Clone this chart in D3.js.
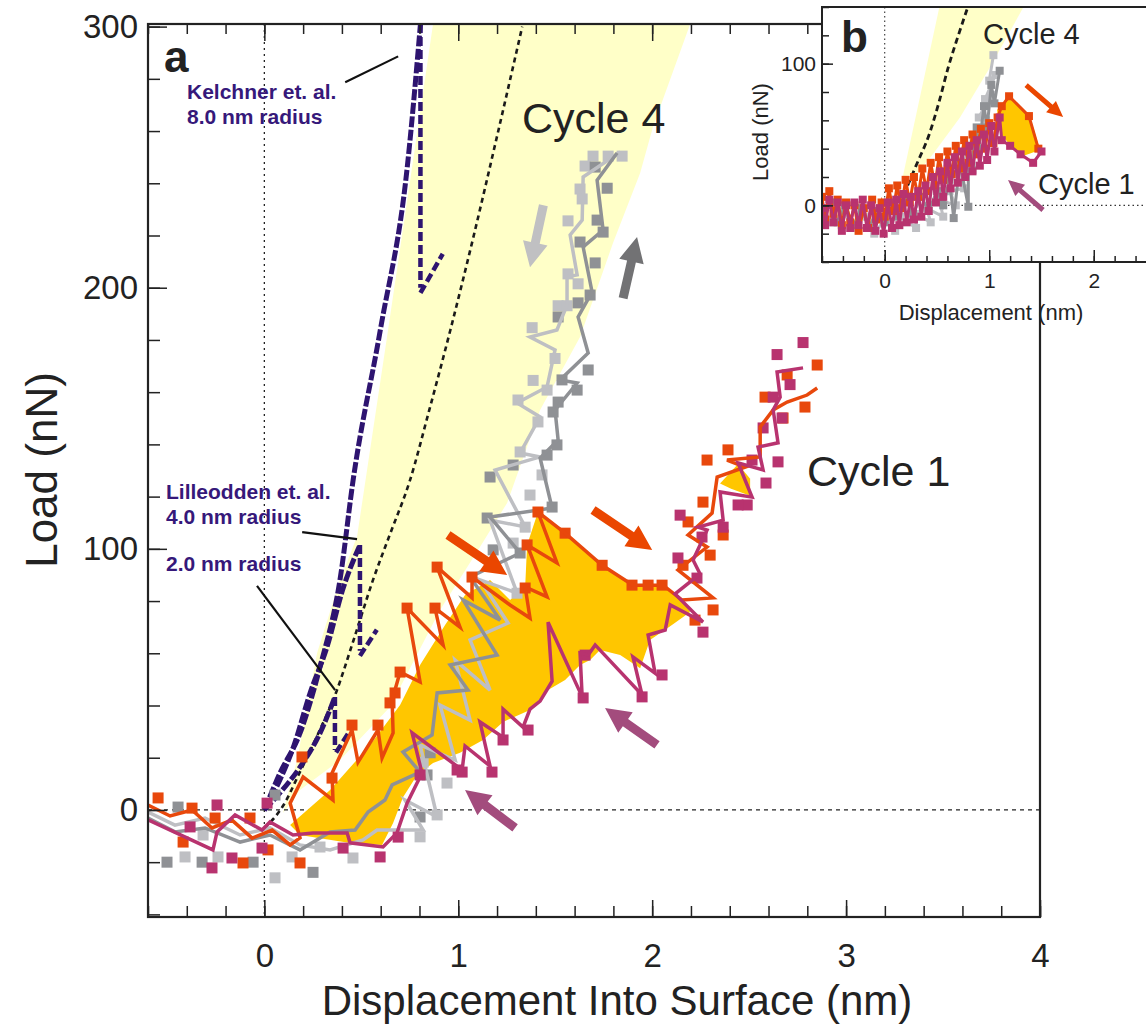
<!DOCTYPE html>
<html>
<head>
<meta charset="utf-8">
<script src="https://cdnjs.cloudflare.com/ajax/libs/d3/7.8.5/d3.min.js"></script>
<style>
body{margin:0;background:#fff}
svg{display:block;font-family:"Liberation Sans",Arial,Helvetica,sans-serif}
</style>
</head>
<body>
<script>
// ---- main panel (a) data: [displacement nm, load nN] ----
const xMajor=[0,1,2,3,4];
const yMajor=[0,100,200,300];
const yellowBand=[[0.096,-1.2],[0.133,9.5],[0.169,19.1],[0.272,60.1],[0.390,88.1],[0.478,104.6],[0.638,183.8],[0.752,241.2],[0.870,301],
  [2.196,301],[2.004,261.6],[1.938,243.9],[1.798,217.1],[1.628,181.1],[1.422,153.2],[1.252,117.6],[1.112,100.7],[0.906,76.6],[0.648,39.4],[0.390,19.1],[0.184,7.6]];
const loopFill=[[0.133,-5.8],[0.339,7.6],[0.545,24.9],[0.700,40.2],[0.803,55.5],[0.932,70.8],[1.035,82.3],[1.164,88.1],[1.267,80.4],[1.345,85.4],[1.355,101.5],[1.411,114.1],[1.551,106.0],[1.742,93.7],[1.901,86.1],[2.056,86.1],[2.154,80.4],[2.196,75.8],
  [2.102,70.8],[1.989,65.1],[1.938,54.3],[1.835,59.3],[1.731,61.3],[1.680,57.4],[1.628,55.5],[1.551,49.8],[1.463,45.9],[1.370,38.3],[1.231,33.7],[1.128,26.8],[1.009,21.9],[0.870,18.0],[0.788,13.4],[0.715,4.9],[0.664,-5.0],[0.607,-13.4],[0.442,-12.7],[0.287,-10.8],[0.184,-9.6]];
const loopFill2=[[2.350,125.0],[2.443,132.5],[2.505,126.8],[2.505,120.3],[2.407,123.0]];
const fitCurve=[[0.0,-7],[0.1,2],[0.18,14],[0.27,28],[0.37,45],[0.46,65],[0.56,88],[0.65,106],[0.75,126],[0.85,153],[0.96,184],[1.08,220],[1.2,258],[1.33,300]];
const kelchner8=[[0,0],[0.08,14],[0.184,29.4],[0.287,54.8],[0.39,88.1],[0.458,126.4],[0.598,183.8],[0.737,246.2],[0.805,301]];
const lille4=[[0,0],[0.08,11.5],[0.15,24.1],[0.236,44.8],[0.323,62.4],[0.405,84.6],[0.493,101.5]];
const lille2=[[0,0],[0.08,6.5],[0.184,16.4],[0.287,29.4],[0.364,43.3]];
const drops=[[[0.805,301],[0.805,200]],[[0.493,101.5],[0.493,61]],[[0.364,43.3],[0.364,23]]];
const hooks=[[[0.805,198],[0.92,213]],[[0.493,59],[0.58,69]],[[0.37,22],[0.455,32]]];

const c1LoadLine=[[-0.600,1.9],[-0.486,-2.3],[-0.373,0],[-0.270,-6.9],[-0.167,-3.9],[-0.063,-10.8],[0.040,-7.7],[0.133,-13.4],[0.184,-10.7],[0.133,2.6],[0.200,12.6],[0.354,3.8],[0.349,14.1],[0.452,30.6],[0.483,18.3],[0.586,30.6],[0.607,19.9],[0.664,29.5],[0.659,42.1],[0.700,52.8],[0.803,49.0],[0.736,77.3],[0.922,63.1],[0.880,77.3],[1.009,70.0],[0.891,93.0],[1.071,81.2],[1.071,89.2],[1.267,78.5],[1.370,73.5],[1.345,85.4],[1.458,81.6],[1.355,101.5],[1.509,94.6],[1.411,114.1],[1.551,106.0],[1.742,93.7],[1.901,86.1],[2.056,86.1],[2.154,80.4],[2.314,81.2],[2.133,91.9],[2.283,100.7],[2.185,105.3],[2.309,113.7],[2.335,127.5],[2.479,131.3],[2.386,134.0],[2.557,135.2],[2.557,146.7],[2.624,153.2],[2.696,156.2],[2.799,158.9],[2.851,161.6]];
const c1LoadPts=[[-0.548,4.6],[-0.373,0.7],[-0.254,-3.1],[-0.074,-3.1],[-0.419,-12.3],[0.019,-15.3],[-0.110,-20.3],[0.184,-20.3],[0.194,20.3],[0.349,12.2],[0.452,32.5],[0.586,32.5],[0.648,41.0],[0.674,44.8],[0.700,52.8],[0.736,77.3],[0.880,77.3],[0.891,93.0],[1.071,89.2],[1.345,85.0],[1.355,101.5],[1.411,114.1],[1.551,106.0],[1.742,93.7],[1.896,86.1],[1.979,86.1],[2.051,86.1],[2.283,134.0],[2.391,137.9],[2.262,117.9],[2.185,110.3],[2.366,105.3],[2.299,97.6],[2.159,93.7],[2.314,76.6],[2.221,72.7],[2.582,158.1],[2.675,150.1],[2.788,154.3],[2.851,170.4],[2.696,166.6]];
const c1UnloadLine=[[2.778,169.3],[2.644,167.7],[2.660,158.1],[2.624,153.2],[2.649,140.6],[2.546,139.0],[2.572,130.2],[2.443,132.9],[2.515,119.8],[2.350,121.8],[2.366,111.0],[2.237,108.3],[2.283,107.2],[2.211,95.7],[2.247,90.4],[2.118,82.7],[2.262,72.0],[2.093,78.5],[2.067,68.9],[1.979,67.0],[2.015,52.4],[1.901,58.6],[1.948,44.0],[1.706,63.2],[1.670,59.3],[1.628,60.1],[1.639,43.3],[1.463,71.9],[1.484,49.3],[1.422,41.7],[1.370,38.6],[1.334,31.7],[1.231,38.6],[1.231,27.9],[1.112,33.7],[1.164,16.8],[1.035,24.5],[1.020,15.3],[0.762,29.5],[0.813,14.1],[0.736,2.6],[0.684,-8.8],[0.612,-14.2],[0.442,-12.6],[0.427,-8.8],[0.251,-8.8],[0.148,-9.6],[0.029,-4.6],[-0.012,-7.7],[-0.151,-1.9],[-0.244,-8.4],[-0.265,-15.3],[-0.399,-10.7],[-0.600,-3.8]];
const c1UnloadPts=[[2.778,179.0],[2.644,174.4],[2.711,162.9],[2.624,158.1],[2.670,150.1],[2.572,146.3],[2.649,133.3],[2.515,134.0],[2.587,125.2],[2.490,116.8],[2.443,116.8],[2.366,108.3],[2.144,112.9],[2.257,104.5],[2.133,96.5],[2.231,88.8],[2.262,68.1],[2.051,51.7],[1.948,43.3],[1.644,42.9],[1.654,59.3],[1.360,30.6],[1.231,26.8],[1.174,14.5],[1.020,14.5],[0.690,-10.4],[0.597,-18.0],[-0.244,1.9],[-0.383,-6.5],[-0.167,-18.4],[-0.270,-22.2],[0.014,2.6],[-0.012,-14.6],[0.406,-14.6],[0.803,13.4],[0.994,15.3]];
const c4LoadLine=[[-0.600,-3.1],[-0.461,-8.4],[-0.306,-6.9],[-0.125,-12.3],[0.029,-9.6],[0.184,-15.3],[0.339,-8.4],[0.468,-7.7],[0.535,-0.8],[0.622,3.8],[0.659,9.6],[0.803,14.5],[0.715,22.2],[0.865,28.7],[0.891,44.8],[1.050,45.9],[0.958,55.5],[1.200,59.3],[1.025,80.4],[1.216,72.7],[1.061,89.2],[1.319,98.4],[1.164,112.2],[1.484,115.6],[1.422,134.8],[1.515,141.7],[1.499,153.2],[1.613,163.5],[1.525,164.7],[1.670,175.0],[1.618,188.8],[1.690,198.4],[1.644,215.6],[1.747,222.1],[1.716,241.2],[1.819,251.6]];
const c4LoadPts=[[1.706,246.2],[1.768,238.1],[1.716,225.9],[1.747,221.3],[1.628,217.5],[1.706,209.5],[1.680,197.2],[1.618,194.2],[1.515,188.8],[1.670,168.5],[1.535,164.7],[1.613,160.8],[1.515,156.2],[1.489,152.4],[1.509,139.8],[1.458,135.9],[1.283,132.1],[1.164,127.5],[1.484,116.0],[1.149,111.8],[1.180,99.6],[1.319,98.4],[0.855,21.9],[0.839,13.4],[0.803,-2.7],[-0.445,1.1],[-0.502,-20.0],[-0.321,-20.0],[-0.058,-20.0],[0.251,-23.9],[0.055,5.7]];
const c4UnloadLine=[[1.835,252.0],[1.644,242.4],[1.639,225.9],[1.577,220.2],[1.613,204.9],[1.561,204.2],[1.561,193.4],[1.509,183.8],[1.370,181.1],[1.499,176.2],[1.458,162.0],[1.303,155.9],[1.422,150.5],[1.319,136.7],[1.422,135.2],[1.190,130.2],[1.345,108.4],[1.164,111.0],[1.303,83.1],[1.112,88.1],[1.257,71.6],[1.061,65.1],[1.164,45.9],[0.984,57.4],[1.061,34.4],[0.906,40.2],[0.984,19.1],[0.803,24.9],[0.891,-2.7],[0.725,3.8],[0.819,-7.7],[0.581,-7.7],[0.509,-11.5],[0.339,-15.3],[0.184,-13.4],[0.029,-6.9],[-0.125,-9.6],[-0.306,-3.1],[-0.461,-5.8],[-0.600,-0.8]];
const c4UnloadPts=[[1.695,250.4],[1.773,250.4],[1.845,250.4],[1.654,246.6],[1.628,237.8],[1.639,234.0],[1.566,225.6],[1.566,205.3],[1.618,201.5],[1.515,193.1],[1.561,193.1],[1.381,184.7],[1.499,172.9],[1.386,164.5],[1.458,160.8],[1.308,157.0],[1.411,148.6],[1.319,137.1],[1.432,128.3],[1.370,120.6],[1.345,108.3],[1.283,102.2],[1.303,83.0],[-0.409,-18.0],[-0.239,-18.0],[-0.316,-9.6],[0.055,-26.0],[0.143,-18.0],[0.287,-14.2],[0.457,-18.4],[0.803,-10.3],[0.891,-1.9],[0.942,10.3],[0.819,18.3]];
// arrows: [x tail, y tail, x tip, y tip]
const arrowsA=[
  {c:"#C0C0C2",p:[1.439,231.6,1.370,207.8]},
  {c:"#727274",p:[1.850,196.0,1.922,219.4]},
  {c:"#EA4600",p:[0.947,105.3,1.252,90.0]},
  {c:"#EA4600",p:[1.695,114.9,2.000,99.6]},
  {c:"#A34C7D",p:[2.025,24.9,1.757,39.0]},
  {c:"#A34C7D",p:[1.293,-6.9,1.035,7.6]}];

// ---- inset (b) data ----
const xMajorB=[0,1,2];
const yMajorB=[0,100];
const yellowB=[[0.174,20.5],[0.529,142],[1.343,142],[1.008,97.4],[0.72,62],[0.45,35],[0.3,22]];
const fitB=[[0.22,14],[0.3,28],[0.43,51],[0.52,73],[0.61,98],[0.7,119],[0.8,141]];
const loopB=[[1.075,67.3],[1.199,77.3],[1.390,62.6],[1.486,39.0],[1.295,34.1],[1.103,51.0]];
const c4LoadB=[[-0.6,-8],[-0.52,2],[-0.45,-12],[-0.38,0],[-0.3,-14],[-0.22,-2],[-0.15,-16],[-0.08,-4],[0.0,-12],[0.06,2],[0.12,-8],[0.2,5],[0.27,-6],[0.35,6],[0.42,-4],[0.5,10],[0.56,0],[0.62,18],[0.66,-9],[0.72,30],[0.8,-1],[0.8,42],[0.83,28],[0.88,55],[0.9,40],[0.95,70],[0.98,55],[1.02,85],[1.05,72],[1.1,95]];
const c4UnloadB=[[1.04,106],[1.0,88],[1.06,92],[0.96,75],[1.02,78],[0.9,62],[0.97,60],[0.85,48],[0.9,40],[0.78,35],[0.84,25],[0.7,22],[0.76,12],[0.62,10],[0.68,0],[0.52,4],[0.56,-8],[0.4,-2],[0.44,-12],[0.3,-6],[0.3,-16],[0.15,-8],[0.1,-18],[0.0,-10],[-0.1,-20],[-0.2,-8],[-0.3,-16],[-0.4,-4],[-0.5,-12],[-0.6,-2]];
const c1LoadB=[[-0.6,6],[-0.57,-10],[-0.53,10],[-0.49,-6],[-0.45,4],[-0.41,-14],[-0.37,2],[-0.33,-12],[-0.29,0],[-0.25,-18],[-0.2,-2],[-0.16,-16],[-0.12,4],[-0.08,-10],[-0.03,2],[0.0,-8],[0.04,12],[0.08,-4],[0.12,14],[0.16,-2],[0.2,18],[0.24,2],[0.28,20],[0.32,6],[0.36,26],[0.4,10],[0.44,30],[0.48,14],[0.52,34],[0.56,18],[0.6,38],[0.64,22],[0.68,42],[0.72,26],[0.76,46],[0.8,30],[0.84,50],[0.88,36],[0.92,54],[0.96,40],[1.0,58],[1.04,44],[1.08,62],[1.12,70],[1.19,77],[1.38,63],[1.47,40]];
const c1UnloadB=[[1.5,38],[1.42,30],[1.3,36],[1.2,42],[1.12,46],[1.1,62],[1.05,38],[1.02,56],[0.98,32],[0.95,50],[0.91,28],[0.88,46],[0.84,24],[0.81,42],[0.77,20],[0.74,38],[0.7,16],[0.67,34],[0.63,12],[0.6,30],[0.56,6],[0.53,24],[0.49,2],[0.46,20],[0.42,-4],[0.39,14],[0.35,-8],[0.32,10],[0.28,-10],[0.25,6],[0.21,-12],[0.18,8],[0.14,-14],[0.11,4],[0.07,-16],[0.03,2],[-0.01,-20],[-0.05,-2],[-0.09,-18],[-0.13,0],[-0.17,-16],[-0.21,4],[-0.25,-14],[-0.29,2],[-0.33,-16],[-0.37,0],[-0.41,-18],[-0.45,2],[-0.49,-12],[-0.53,4],[-0.57,-14],[-0.6,-2]];
const arrowsB=[
  {c:"#EA4600",p:[1.353,84.9,1.707,62.3]},
  {c:"#A34C7D",p:[1.515,-3.3,1.18,17.9]}];

const ORANGE="#E8480C", MAGENTA="#B8336F", DARK="#8F9195", LIGHT="#BEBFC3", PURPLE="#2E1470";

const W=1146,H=1029;
const svg=d3.select("body").append("svg").attr("width",W).attr("height",H);

function arrow(g,a,sx,sy,shaft,headL,headW){
  const x0=sx(a.p[0]),y0=sy(a.p[1]),x1=sx(a.p[2]),y1=sy(a.p[3]);
  const dx=x1-x0,dy=y1-y0,L=Math.hypot(dx,dy),ux=dx/L,uy=dy/L,px=-uy,py=ux;
  const bx=x1-ux*headL,by=y1-uy*headL;
  const pts=[[x0+px*shaft/2,y0+py*shaft/2],[bx+px*shaft/2,by+py*shaft/2],[bx+px*headW/2,by+py*headW/2],[x1,y1],
    [bx-px*headW/2,by-py*headW/2],[bx-px*shaft/2,by-py*shaft/2],[x0-px*shaft/2,y0-py*shaft/2]];
  g.append("polygon").attr("points",pts.map(p=>p.join(",")).join(" ")).attr("fill",a.c);
}
function squares(g,data,sx,sy,s,color){
  g.selectAll(null).data(data).enter().append("rect")
    .attr("x",d=>sx(d[0])-s/2).attr("y",d=>sy(d[1])-s/2)
    .attr("width",s).attr("height",s).attr("fill",color);
}

// ================= main panel =================
const x=d3.scaleLinear().domain([-0.6,4]).range([148,1040]);
const y=d3.scaleLinear().domain([-41,301]).range([917,24]);
const line=d3.line().x(d=>x(d[0])).y(d=>y(d[1]));
const smooth=d3.line().x(d=>x(d[0])).y(d=>y(d[1])).curve(d3.curveMonotoneX);

svg.append("clipPath").attr("id","clipA").append("rect")
  .attr("x",148).attr("y",24).attr("width",892).attr("height",893);
const gA=svg.append("g").attr("clip-path","url(#clipA)");

gA.append("path").attr("d",line(yellowBand)+"Z").attr("fill","#FFFFC8");
gA.append("line").attr("x1",x(0)).attr("x2",x(0)).attr("y1",24).attr("y2",917)
  .attr("stroke","#222").attr("stroke-width",1.3).attr("stroke-dasharray","2,4");
gA.append("line").attr("x1",148).attr("x2",1040).attr("y1",y(0)).attr("y2",y(0))
  .attr("stroke","#222").attr("stroke-width",1.3).attr("stroke-dasharray","4,4");
gA.append("path").attr("d",line(loopFill)+"Z").attr("fill","#FFC600");
gA.append("path").attr("d",line(loopFill2)+"Z").attr("fill","#FFC600");
gA.append("path").attr("d",smooth(fitCurve)).attr("fill","none")
  .attr("stroke","#1a1a1a").attr("stroke-width",2.6).attr("stroke-dasharray","5,4");
[kelchner8,lille4,lille2].forEach(c=>{
  gA.append("path").attr("d",smooth(c))
    .attr("fill","none").attr("stroke",PURPLE).attr("stroke-width",5).attr("stroke-dasharray","11,2.5");
});
drops.concat(hooks).forEach(s=>{
  gA.append("path").attr("d",line(s)).attr("fill","none")
    .attr("stroke",PURPLE).attr("stroke-width",4.5).attr("stroke-dasharray","9,4");
});

// cycle 4 (gray)
squares(gA,c4UnloadPts,x,y,11,LIGHT);
squares(gA,c4LoadPts,x,y,11,DARK);
gA.append("path").attr("d",line(c4UnloadLine)).attr("fill","none").attr("stroke",LIGHT).attr("stroke-width",3.5);
gA.append("path").attr("d",line(c4LoadLine)).attr("fill","none").attr("stroke",DARK).attr("stroke-width",3.5);
// cycle 1
squares(gA,c1LoadPts,x,y,11,ORANGE);
squares(gA,c1UnloadPts,x,y,11,MAGENTA);
gA.append("path").attr("d",line(c1LoadLine)).attr("fill","none").attr("stroke",ORANGE).attr("stroke-width",3.5);
gA.append("path").attr("d",line(c1UnloadLine)).attr("fill","none").attr("stroke",MAGENTA).attr("stroke-width",3.5);

arrowsA.forEach(a=>arrow(gA,a,x,y,9,25,25));

// leader lines
[[[0.417,278.7],[0.690,288.6]],[[0.195,106.4],[0.478,103.7]],[[-0.038,85.8],[0.365,45.9]]].forEach(s=>{
  gA.append("path").attr("d",line(s)).attr("stroke","#111").attr("stroke-width",2.2).attr("fill","none");
});

// axes (inward ticks)
const xMinor=d3.range(-0.6,4.001,0.2), yMinor=d3.range(-40,301,20);
function styleAxis(g,fs){
  g.select(".domain").remove();
  g.selectAll("line").attr("stroke","#222").attr("stroke-width",1.5);
  g.selectAll("text").attr("fill","#222").attr("font-size",fs).attr("font-family","Liberation Sans, Arial, sans-serif");
}
svg.append("g").attr("transform","translate(0,917)").call(d3.axisBottom(x).tickValues(xMinor).tickSize(-11).tickFormat("")).call(g=>styleAxis(g,0));
svg.append("g").attr("transform","translate(0,917)").call(d3.axisBottom(x).tickValues(xMajor).tickSize(-17).tickPadding(27).tickFormat(d3.format("d"))).call(g=>styleAxis(g,33));
svg.append("g").attr("transform","translate(0,24)").call(d3.axisTop(x).tickValues(xMinor).tickSize(-10).tickFormat("")).call(g=>styleAxis(g,0));
svg.append("g").attr("transform","translate(0,24)").call(d3.axisTop(x).tickValues(xMajor).tickSize(-17).tickFormat("")).call(g=>styleAxis(g,0));
svg.append("g").attr("transform","translate(148,0)").call(d3.axisLeft(y).tickValues(yMinor).tickSize(-12).tickFormat("")).call(g=>styleAxis(g,0));
svg.append("g").attr("transform","translate(148,0)").call(d3.axisLeft(y).tickValues(yMajor).tickSize(-19).tickPadding(10).tickFormat(d3.format("d"))).call(g=>styleAxis(g,33));
svg.append("rect").attr("x",148).attr("y",24).attr("width",892).attr("height",893)
  .attr("fill","none").attr("stroke","#222").attr("stroke-width",2.2);

svg.append("text").attr("x",617).attr("y",1015).attr("text-anchor","middle").attr("font-size",42).attr("fill","#222")
  .text("Displacement Into Surface (nm)");
svg.append("text").attr("transform","translate(57,470) rotate(-90)").attr("text-anchor","middle").attr("font-size",44).attr("fill","#222")
  .text("Load (nN)");
svg.append("text").attr("x",164).attr("y",72).attr("font-size",44).attr("font-weight","bold").attr("fill","#222").text("a");
svg.append("text").attr("x",522).attr("y",133).attr("font-size",43).attr("fill","#222").text("Cycle 4");
svg.append("text").attr("x",807).attr("y",486).attr("font-size",43).attr("fill","#222").text("Cycle 1");
const lab=[["Kelchner et. al.",187,99],["8.0 nm radius",187,124],["Lilleodden et. al.",166,499],["4.0 nm radius",166,524],["2.0 nm radius",166,571]];
lab.forEach(l=>svg.append("text").attr("x",l[1]).attr("y",l[2]).attr("font-size",21).attr("font-weight","bold")
  .attr("fill","#36187A").text(l[0]));

// ================= inset (b) =================
const xb=d3.scaleLinear().domain([-0.6,2.5]).range([822,1146]);
const yb=d3.scaleLinear().domain([-40,140]).range([262,7]);
const lineB=d3.line().x(d=>xb(d[0])).y(d=>yb(d[1]));
const smoothB=d3.line().x(d=>xb(d[0])).y(d=>yb(d[1])).curve(d3.curveMonotoneX);
svg.append("rect").attr("x",822).attr("y",7).attr("width",330).attr("height",255).attr("fill","#fff");
svg.append("clipPath").attr("id","clipB").append("rect").attr("x",822).attr("y",7).attr("width",330).attr("height",255);
const gB=svg.append("g").attr("clip-path","url(#clipB)");
gB.append("path").attr("d",lineB(yellowB)+"Z").attr("fill","#FFFFC8");
gB.append("line").attr("x1",xb(0)).attr("x2",xb(0)).attr("y1",7).attr("y2",262)
  .attr("stroke","#333").attr("stroke-width",1.1).attr("stroke-dasharray","1.5,3");
gB.append("line").attr("x1",822).attr("x2",1146).attr("y1",yb(0)).attr("y2",yb(0))
  .attr("stroke","#333").attr("stroke-width",1.1).attr("stroke-dasharray","1.5,3");
gB.append("path").attr("d",smoothB(fitB)).attr("fill","none")
  .attr("stroke","#1a1a1a").attr("stroke-width",2.8).attr("stroke-dasharray","6,4");
[[c4UnloadB,LIGHT],[c4LoadB,DARK]].forEach(s=>{
  squares(gB,s[0],xb,yb,8,s[1]);
  gB.append("path").attr("d",lineB(s[0])).attr("fill","none").attr("stroke",s[1]).attr("stroke-width",3);
});
gB.append("path").attr("d",lineB(loopB)+"Z").attr("fill","#FFC600");
[[c1LoadB,ORANGE],[c1UnloadB,MAGENTA]].forEach(s=>{
  squares(gB,s[0],xb,yb,8,s[1]);
  gB.append("path").attr("d",lineB(s[0])).attr("fill","none").attr("stroke",s[1]).attr("stroke-width",3);
});
arrowsB.forEach(a=>arrow(gB,a,xb,yb,5,16,15));

const xMinorB=d3.range(-0.6,2.501,0.2), yMinorB=d3.range(-40,141,20);
svg.append("g").attr("transform","translate(0,262)").call(d3.axisBottom(xb).tickValues(xMinorB).tickSize(-6).tickFormat("")).call(g=>styleAxis(g,0));
svg.append("g").attr("transform","translate(0,262)").call(d3.axisBottom(xb).tickValues(xMajorB).tickSize(-12).tickPadding(11).tickFormat(d3.format("d"))).call(g=>styleAxis(g,21));
svg.append("g").attr("transform","translate(822,0)").call(d3.axisLeft(yb).tickValues(yMinorB).tickSize(-7).tickFormat("")).call(g=>styleAxis(g,0));
svg.append("g").attr("transform","translate(822,0)").call(d3.axisLeft(yb).tickValues(yMajorB).tickSize(-11).tickPadding(6).tickFormat(d3.format("d"))).call(g=>styleAxis(g,21));
svg.append("rect").attr("x",822).attr("y",7).attr("width",340).attr("height",255)
  .attr("fill","none").attr("stroke","#222").attr("stroke-width",2);
svg.append("text").attr("x",991).attr("y",320).attr("text-anchor","middle").attr("font-size",22).attr("fill","#222").text("Displacement (nm)");
svg.append("text").attr("transform","translate(768,132) rotate(-90)").attr("text-anchor","middle").attr("font-size",22).attr("fill","#222").text("Load (nN)");
svg.append("text").attr("x",841).attr("y",52).attr("font-size",44).attr("font-weight","bold").attr("fill","#222").text("b");
svg.append("text").attr("x",983).attr("y",44).attr("font-size",29).attr("fill","#222").text("Cycle 4");
svg.append("text").attr("x",1038).attr("y",194).attr("font-size",29).attr("fill","#222").text("Cycle 1");
</script>
</body>
</html>
